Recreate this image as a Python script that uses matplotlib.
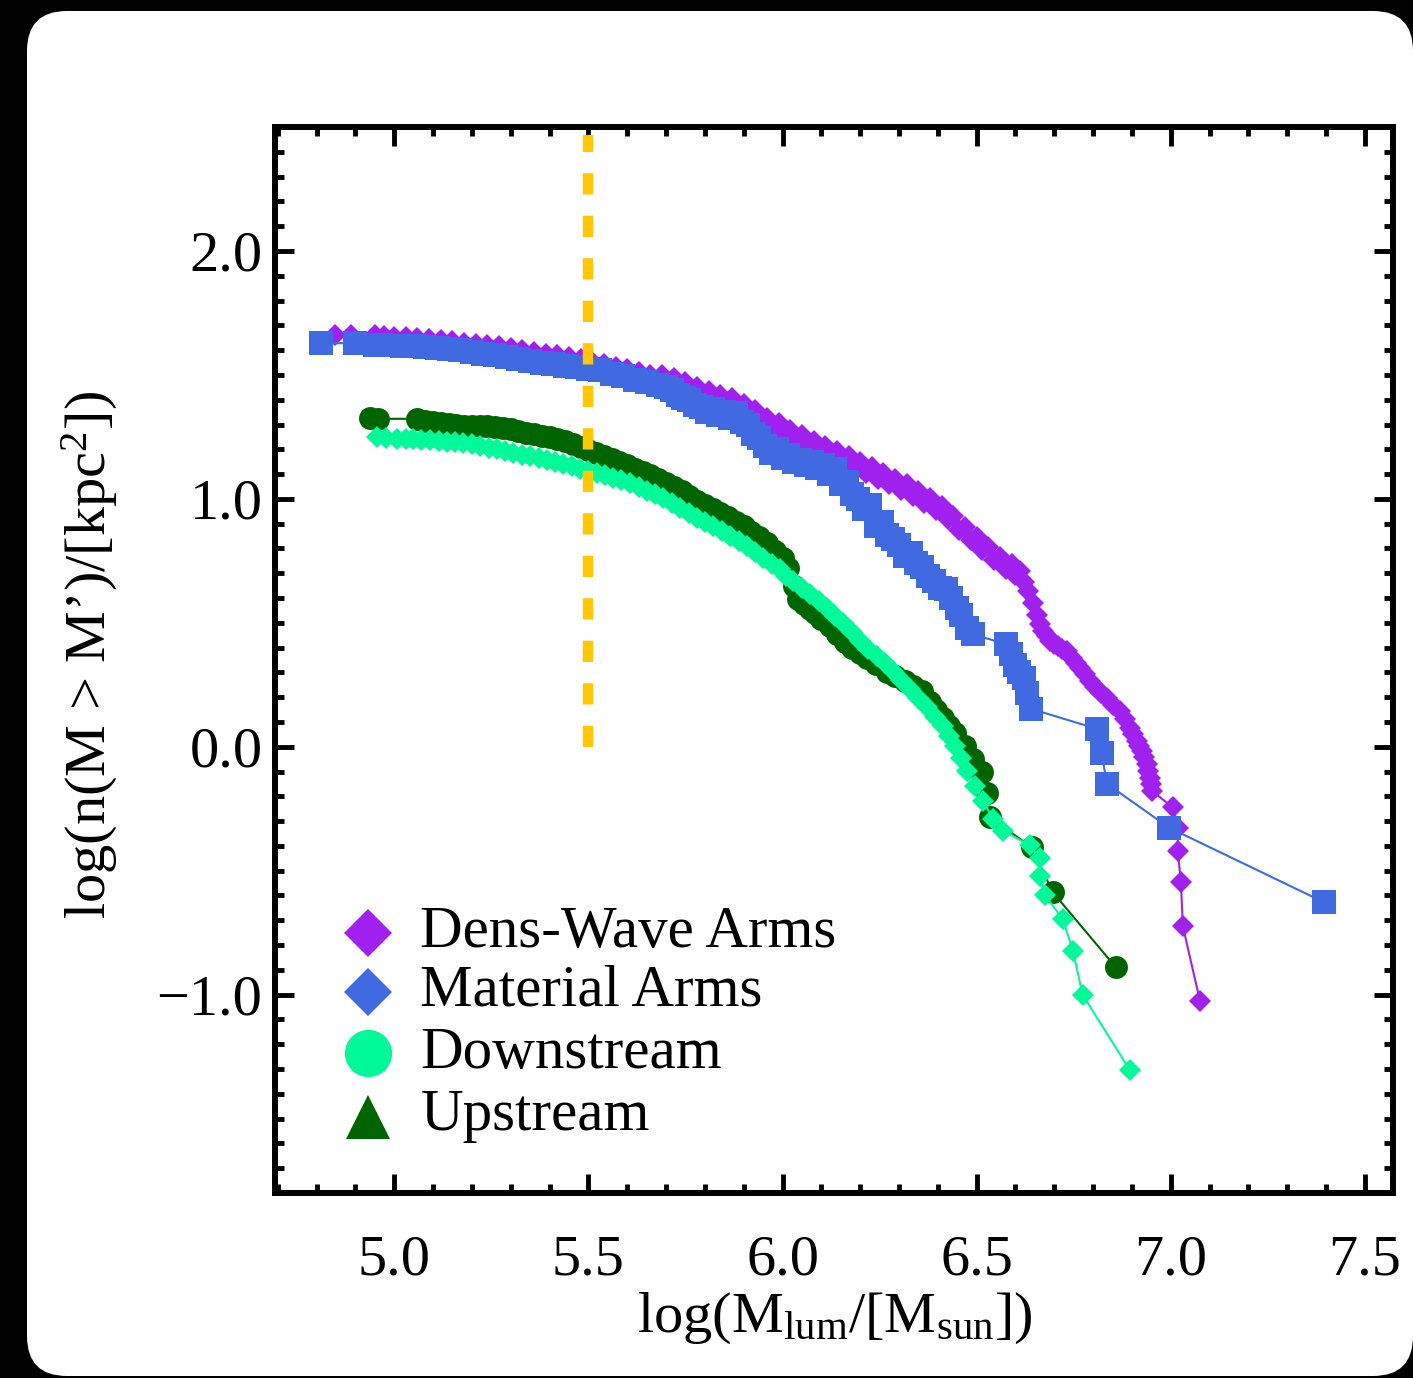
import matplotlib
matplotlib.use("Agg")
import matplotlib.pyplot as plt
from matplotlib.patches import FancyBboxPatch
from matplotlib.transforms import IdentityTransform
from matplotlib.ticker import MultipleLocator, FuncFormatter

plt.rcParams["font.family"] = ["Liberation Serif", "DejaVu Serif"]
plt.rcParams["mathtext.fontset"] = "custom"
plt.rcParams["mathtext.rm"] = "Liberation Serif"
plt.rcParams["mathtext.it"] = "Liberation Serif:italic"

# density-wave arms (purple diamonds)
dens_x = [4.848, 4.889, 4.950, 4.975, 5.000, 5.030, 5.060, 5.090, 5.120, 5.150,
          5.180, 5.210, 5.240, 5.270, 5.300, 5.330, 5.360, 5.390, 5.420, 5.450,
          5.480, 5.510, 5.540, 5.570, 5.600, 5.630, 5.660,
          5.690, 5.705, 5.720, 5.735, 5.750, 5.765, 5.780, 5.795, 5.810, 5.825,
          5.840, 5.855, 5.870, 5.885, 5.900, 5.915, 5.930, 5.945, 5.960, 5.975,
          5.990, 6.005, 6.020, 6.035, 6.050, 6.065, 6.080, 6.095, 6.110, 6.125,
          6.140, 6.155, 6.170, 6.185, 6.200, 6.215, 6.230, 6.245, 6.260, 6.275,
          6.290, 6.305, 6.320, 6.335, 6.350, 6.365, 6.380, 6.395, 6.410, 6.425,
          6.440, 6.455, 6.470, 6.485, 6.500, 6.515, 6.530, 6.545, 6.560, 6.575,
          6.590, 6.600, 6.611, 6.622, 6.633, 6.645, 6.655, 6.663, 6.671, 6.680,
          6.689, 6.700, 6.710, 6.720, 6.732, 6.745, 6.755, 6.766, 6.779, 6.792,
          6.805, 6.820, 6.835, 6.852, 6.869, 6.882, 6.894, 6.903, 6.912, 6.918,
          6.925, 6.932, 6.938, 6.942, 6.946, 6.949, 6.951,
          7.005, 7.018, 7.018, 7.026, 7.031, 7.075]
dens_y = [1.661, 1.661, 1.660, 1.657, 1.655, 1.652, 1.648, 1.645, 1.640, 1.636,
          1.630, 1.626, 1.621, 1.616, 1.608, 1.600, 1.592, 1.586, 1.580, 1.574,
          1.564, 1.554, 1.545, 1.534, 1.522, 1.510, 1.498,
          1.500, 1.465, 1.488, 1.450, 1.470, 1.430, 1.452, 1.412, 1.436, 1.396,
          1.420, 1.381, 1.405, 1.360, 1.382, 1.336, 1.357, 1.310, 1.328, 1.283,
          1.307, 1.259, 1.279, 1.234, 1.257, 1.212, 1.235, 1.190, 1.213, 1.169,
          1.193, 1.149, 1.172, 1.125, 1.147, 1.103, 1.127, 1.082, 1.105, 1.059,
          1.081, 1.036, 1.059, 1.012, 1.033, 0.985, 1.005, 0.955, 0.972, 0.918,
          0.932, 0.876, 0.887, 0.833, 0.847, 0.793, 0.807, 0.752, 0.765, 0.717,
          0.737, 0.692, 0.710, 0.665, 0.630, 0.580, 0.530, 0.495, 0.466, 0.445,
          0.426, 0.415, 0.405, 0.396, 0.386, 0.360, 0.338, 0.318, 0.292, 0.265,
          0.240, 0.218, 0.197, 0.170, 0.145, 0.110, 0.076, 0.050, 0.024, 0.004,
          -0.016, -0.042, -0.068, -0.096, -0.125, -0.150, -0.177,
          -0.245, -0.326, -0.422, -0.547, -0.724, -1.025]

# material arms (blue squares)
mat_x = [4.812, 4.900, 4.951, 4.967, 5.021, 5.050, 5.080, 5.110, 5.140, 5.170,
         5.200, 5.230, 5.260, 5.290, 5.320, 5.350, 5.380, 5.410, 5.440, 5.470,
         5.500, 5.530, 5.560, 5.590, 5.620, 5.650, 5.680,
         5.700, 5.715, 5.730, 5.745, 5.760, 5.775, 5.790, 5.805, 5.820, 5.835,
         5.850, 5.865, 5.880, 5.895, 5.910, 5.925, 5.940, 5.955, 5.970, 5.985,
         6.000, 6.015, 6.030, 6.045, 6.060, 6.075, 6.090, 6.105, 6.120, 6.135,
         6.150, 6.165, 6.180, 6.195, 6.210, 6.225, 6.240, 6.255, 6.270, 6.285,
         6.300, 6.315, 6.330, 6.345, 6.360, 6.375, 6.390, 6.405, 6.420, 6.435,
         6.450, 6.460, 6.475, 6.490,
         6.575, 6.588, 6.598, 6.610, 6.622, 6.629, 6.640, 6.810, 6.822, 6.835,
         6.995, 7.394]
mat_y = [1.628, 1.628, 1.622, 1.620, 1.618, 1.616, 1.613, 1.610, 1.605, 1.600,
         1.592, 1.585, 1.580, 1.572, 1.565, 1.556, 1.550, 1.544, 1.538, 1.532,
         1.525, 1.518, 1.505, 1.495, 1.480, 1.470, 1.458,
         1.450, 1.438, 1.420, 1.405, 1.398, 1.378, 1.372, 1.352, 1.362, 1.340,
         1.352, 1.325, 1.345, 1.310, 1.300, 1.262, 1.245, 1.215, 1.185, 1.200,
         1.165, 1.175, 1.150, 1.158, 1.136, 1.148, 1.125, 1.138, 1.100, 1.120,
         1.060, 1.070, 1.020, 1.000, 0.960, 0.975, 0.890, 0.905, 0.855, 0.840,
         0.815, 0.770, 0.780, 0.740, 0.725, 0.690, 0.668, 0.640, 0.638, 0.600,
         0.560, 0.530, 0.480, 0.454,
         0.414, 0.374, 0.330, 0.300, 0.277, 0.217, 0.153, 0.072, -0.024, -0.149,
         -0.326, -0.627]

# downstream (light green diamonds)
down_x = [4.956, 4.980, 5.008, 5.030, 5.049, 5.070, 5.093, 5.115, 5.136, 5.157,
          5.178, 5.200, 5.221, 5.243, 5.265, 5.285, 5.306, 5.328, 5.350, 5.372,
          5.394, 5.415, 5.435, 5.457, 5.479, 5.500, 5.523, 5.543, 5.564, 5.585,
          5.607, 5.630, 5.651, 5.672, 5.692, 5.715, 5.736, 5.758, 5.780, 5.800,
          5.821, 5.843, 5.865, 5.887, 5.909, 5.930, 5.950, 5.972, 5.994, 6.010,
          6.027, 6.050, 6.071, 6.093, 6.115, 6.135, 6.156, 6.178, 6.199, 6.221,
          6.243, 6.263, 6.284, 6.306, 6.328, 6.350, 6.372, 6.392, 6.413, 6.430,
          6.444, 6.460, 6.475, 6.496, 6.516, 6.542, 6.568, 6.637, 6.663, 6.663,
          6.676, 6.722, 6.748, 6.773, 6.894]
down_y = [1.251, 1.246, 1.242, 1.242, 1.242, 1.239, 1.236, 1.233, 1.230, 1.228,
          1.226, 1.220, 1.214, 1.207, 1.200, 1.193, 1.186, 1.179, 1.172, 1.165,
          1.158, 1.149, 1.140, 1.131, 1.122, 1.114, 1.106, 1.096, 1.086, 1.075,
          1.064, 1.048, 1.033, 1.018, 1.003, 0.984, 0.965, 0.944, 0.923, 0.906,
          0.889, 0.870, 0.850, 0.829, 0.808, 0.785, 0.762, 0.739, 0.716, 0.690,
          0.667, 0.641, 0.615, 0.587, 0.559, 0.529, 0.499, 0.462, 0.426, 0.396,
          0.366, 0.336, 0.306, 0.270, 0.233, 0.197, 0.161, 0.122, 0.084, 0.044,
          0.004, -0.046, -0.097, -0.157, -0.217, -0.290, -0.338, -0.398, -0.450, -0.523,
          -0.599, -0.696, -0.824, -1.001, -1.303]

# upstream (dark green circles)
up_x = [4.938, 4.959, 5.059, 5.080, 5.100, 5.120, 5.140, 5.160, 5.180, 5.200,
        5.220, 5.240, 5.260, 5.280, 5.300, 5.320, 5.340, 5.360, 5.380, 5.400,
        5.420, 5.440, 5.460, 5.480, 5.500, 5.520, 5.540, 5.560, 5.580, 5.600,
        5.620, 5.640, 5.660, 5.680, 5.700, 5.720, 5.740, 5.760, 5.780, 5.800,
        5.820, 5.840, 5.860, 5.880, 5.900, 5.920, 5.940, 5.960, 5.980, 6.000,
        6.015, 6.030, 6.040, 6.055, 6.070, 6.084, 6.100, 6.122, 6.140, 6.161,
        6.180, 6.200, 6.218, 6.240, 6.269, 6.290, 6.315, 6.335, 6.359, 6.380,
        6.395, 6.413, 6.430, 6.444, 6.470, 6.490, 6.514, 6.526, 6.534, 6.642,
        6.696, 6.858]
up_y = [1.327, 1.323, 1.323, 1.316, 1.310, 1.306, 1.302, 1.298, 1.295, 1.295,
        1.295, 1.293, 1.291, 1.287, 1.281, 1.274, 1.267, 1.260, 1.255, 1.248,
        1.240, 1.232, 1.221, 1.210, 1.197, 1.184, 1.172, 1.160, 1.148, 1.135,
        1.121, 1.109, 1.096, 1.080, 1.064, 1.047, 1.030, 1.011, 0.993, 0.976,
        0.958, 0.942, 0.925, 0.907, 0.889, 0.868, 0.845, 0.820, 0.790, 0.760,
        0.720, 0.650, 0.595, 0.575, 0.555, 0.539, 0.515, 0.487, 0.455, 0.422,
        0.400, 0.378, 0.358, 0.335, 0.302, 0.285, 0.265, 0.245, 0.225, 0.180,
        0.150, 0.117, 0.085, 0.056, 0.004, -0.050, -0.101, -0.185, -0.285, -0.406,
        -0.587, -0.889]

mass_cut = 5.5
legend_labels = ["Dens-Wave Arms", "Material Arms", "Downstream", "Upstream"]

c_dens = "#A020F0"
c_mat = "#4169E1"
c_down = "#00FA9A"
c_up = "#006400"

fig = plt.figure(figsize=(14.13, 13.78), dpi=100)
fig.patch.set_facecolor("black")
# white rounded panel (pixel coords)
panel = FancyBboxPatch((27, 2), 1386, 1365, boxstyle="round,pad=0,rounding_size=40",
                       transform=IdentityTransform(), facecolor="white",
                       edgecolor="none", zorder=-10)
fig.add_artist(panel)

ax = fig.add_axes([0.1946, 0.1343, 0.7912, 0.7735])

ax.plot(dens_x, dens_y, color=c_dens, lw=1.5, marker="D", ms=11.5, mec=c_dens, mew=0)
ax.plot(mat_x, mat_y, color=c_mat, lw=1.5, marker="s", ms=17, mec=c_mat, mew=0)
ax.plot(up_x, up_y, color=c_up, lw=1.5, marker="o", ms=16.5, mec=c_up, mew=0)
ax.plot(down_x, down_y, color=c_down, lw=1.5, marker="D", ms=11.5, mec=c_down, mew=0)

ax.plot([mass_cut, mass_cut], [0.0, 2.469], color="#FFC800", lw=7.5,
        linestyle=(0, (2.04, 2.04)), solid_capstyle="butt", dash_capstyle="butt")

ax.set_xlim(4.693, 7.572)
ax.set_ylim(-1.8, 2.5)

ax.xaxis.set_major_locator(MultipleLocator(0.5))
ax.xaxis.set_minor_locator(MultipleLocator(0.1))
ax.yaxis.set_major_locator(MultipleLocator(1.0))
ax.yaxis.set_minor_locator(MultipleLocator(0.1))
fmt = FuncFormatter(lambda v, pos: f"{v:.1f}".replace("-", "\u2212"))
ax.xaxis.set_major_formatter(fmt)
ax.yaxis.set_major_formatter(fmt)

ax.tick_params(which="both", direction="in", top=True, right=True, width=3.5, colors="black")
ax.tick_params(which="major", length=14)
ax.tick_params(which="minor", length=6.5)
ax.tick_params(axis="x", which="major", labelsize=42, pad=30)
ax.tick_params(axis="y", which="major", labelsize=42, pad=9)
for sp in ax.spines.values():
    sp.set_linewidth(4.3)

fig.text(835 / 1413, 1 - 1318 / 1378, r"log(M$_{\mathrm{lum}}$/[M$_{\mathrm{sun}}$])",
         fontsize=42, ha="center", va="center")
fig.text(90 / 1413, 1 - 655 / 1378, r"log(n(M > M’)/[kpc$^{2}$])",
         fontsize=42, ha="center", va="center", rotation=90)

# legend drawn by hand to match the original placement
leg_markers = [("D", c_dens, 24), ("D", c_mat, 24), ("o", c_down, 34), ("^", c_up, 32)]
leg_rows = [0.2443, 0.1886, 0.1313, 0.0713]
leg_base = [0.2308, 0.1754, 0.1173, 0.0591]
for (mk, col, size), yr, yb, lab in zip(leg_markers, leg_rows, leg_base, legend_labels):
    ax.plot([0.083], [yr], marker=mk, color=col, ms=size, mew=0, transform=ax.transAxes,
            clip_on=False, linestyle="none")
    ax.text(0.130, yb, lab, transform=ax.transAxes, fontsize=42.5, ha="left", va="baseline")

fig.savefig("out.png", dpi=100, facecolor=fig.get_facecolor())
